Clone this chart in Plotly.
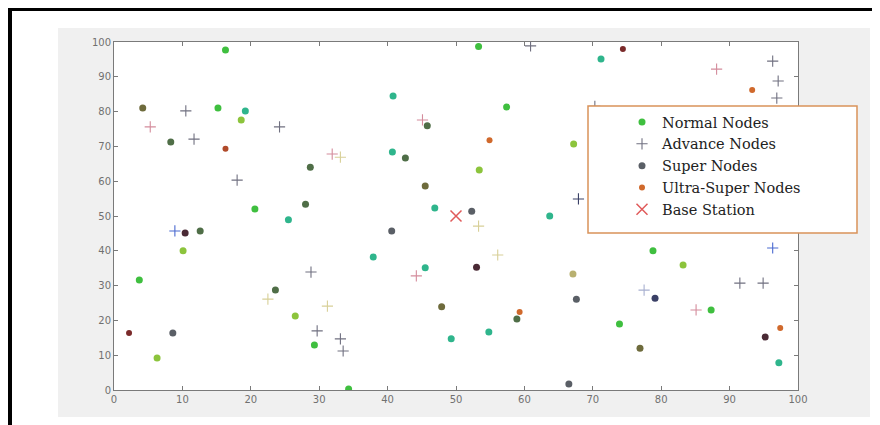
import plotly.graph_objects as go

# ---- data ----
normal_x = [16.3, 53.3, 71.2, 15.2, 19.2, 18.6, 20.6, 25.5, 10.1, 3.7, 26.5, 6.3, 40.8, 57.4, 67.2,
            40.7, 53.4, 46.9, 63.7, 37.9, 45.5, 29.3, 49.3, 54.8, 34.3, 87.3, 73.9, 97.2, 78.8, 83.2]
normal_y = [97.7, 98.7, 95.1, 81.0, 80.2, 77.6, 52.0, 48.9, 40.0, 31.6, 21.3, 9.2, 84.5, 81.3, 70.7,
            68.4, 63.2, 52.3, 50.0, 38.2, 35.1, 12.9, 14.7, 16.7, 0.3, 23.0, 19.0, 7.8, 40.0, 35.9]

advance_x = [60.9, 88.1, 96.3, 97.1, 96.9, 70.3, 5.3, 10.5, 11.7, 24.2, 18.0, 8.9, 22.5, 45.1, 31.9,
             33.1, 67.9, 53.3, 56.1, 28.8, 44.2, 31.2, 29.7, 33.1, 33.5, 77.5, 85.1, 91.5, 94.9, 96.3]
advance_y = [98.9, 92.2, 94.5, 88.8, 83.9, 81.5, 75.6, 80.2, 72.1, 75.6, 60.3, 45.7, 26.1, 77.6, 67.8,
             66.9, 54.9, 47.1, 38.8, 33.9, 32.8, 24.1, 17.0, 14.7, 11.2, 28.7, 23.0, 30.7, 30.7, 40.8]

super_x = [8.6, 4.2, 8.3, 10.4, 12.6, 23.6, 45.8, 42.6, 28.7, 45.5, 28.0, 52.3, 40.6, 53.0, 47.9,
           58.9, 66.5, 67.6, 79.1, 76.9, 95.2, 67.1]
super_y = [16.4, 81.0, 71.3, 45.1, 45.7, 28.7, 75.9, 66.7, 64.0, 58.6, 53.4, 51.4, 45.7, 35.3, 23.9,
           20.4, 1.7, 26.1, 26.4, 12.0, 15.2, 33.3]

ultra_x = [93.3, 74.4, 16.3, 54.9, 59.3, 97.4, 2.2]
ultra_y = [86.2, 98.0, 69.3, 71.8, 22.4, 17.8, 16.4]

base_x = [50]
base_y = [50]

tick_vals = [0, 10, 20, 30, 40, 50, 60, 70, 80, 90, 100]

# ---- per-point styling ----
G, T, Y = "#3fbf3f", "#2fb58c", "#8cc43c"
normal_colors = [G, G, T, G, T, Y, G, T, Y, G, Y, Y, T, G, Y,
                 T, Y, T, T, T, T, G, T, T, G, G, G, T, G, Y]
DG, DK, MR, OL, NV = "#4f6e47", "#5a5f66", "#4a2a35", "#6e6b3c", "#3a4066"
super_colors = [DK, OL, DG, MR, DG, DG, DG, DG, DG, OL, DG, DK, DK, MR, OL,
                DG, DK, DK, NV, OL, MR, "#b8b070"]
GR, PK, PY, BL = "#707080", "#d48c9c", "#d8d098", "#4a6ad0"
advance_colors = [GR, PK, GR, GR, GR, GR, PK, GR, GR, GR, GR, BL, PY, PK, PK,
                  PY, NV, PY, PY, GR, PK, PY, GR, GR, GR, "#a8b0d0", PK, GR, GR, BL]
OR, DR = "#d0692c", "#7a2a2a"
ultra_colors = [OR, DR, "#b04a2a", OR, OR, OR, DR]

fig = go.Figure()
fig.add_trace(go.Scatter(x=normal_x, y=normal_y, mode="markers", name="Normal Nodes",
                         marker=dict(symbol="circle", size=7, color=normal_colors)))
fig.add_trace(go.Scatter(x=advance_x, y=advance_y, mode="markers", name="Advance Nodes",
                         marker=dict(symbol="cross-thin", size=8, color=advance_colors,
                                     line=dict(width=1.1, color=advance_colors))))
fig.add_trace(go.Scatter(x=super_x, y=super_y, mode="markers", name="Super Nodes",
                         marker=dict(symbol="circle", size=7, color=super_colors)))
fig.add_trace(go.Scatter(x=ultra_x, y=ultra_y, mode="markers", name="Ultra-Super Nodes",
                         marker=dict(symbol="circle", size=6, color=ultra_colors)))
fig.add_trace(go.Scatter(x=base_x, y=base_y, mode="markers", name="Base Station",
                         marker=dict(symbol="x-thin", size=11, color="#e05a5a",
                                     line=dict(width=1.5, color="#e05a5a"))))

# page pixel -> paper coordinates (plot area spans page px 114..798 and 42..390)
def px2x(px):
    return (px - 114) / 684.0

def py2y(py):
    return (390 - py) / 348.0

shapes = [
    dict(type="rect", xref="paper", yref="paper", x0=px2x(58), x1=px2x(870), y0=py2y(417), y1=py2y(28),
         fillcolor="#f0f0f0", line=dict(width=0), layer="below"),
    dict(type="rect", xref="paper", yref="paper", x0=0, x1=1, y0=0, y1=1,
         fillcolor="white", line=dict(width=0), layer="below"),
    dict(type="rect", xref="paper", yref="paper", x0=px2x(588), x1=px2x(857), y0=py2y(233), y1=py2y(106),
         fillcolor="white", line=dict(width=1.5, color="#d9925a"), layer="above"),
    dict(type="line", xref="paper", yref="paper", x0=px2x(8), x1=px2x(885), y0=py2y(9), y1=py2y(9),
         line=dict(width=4, color="black")),
    dict(type="line", xref="paper", yref="paper", x0=px2x(10), x1=px2x(10), y0=py2y(7), y1=py2y(430),
         line=dict(width=4, color="black")),
]

axis_common = dict(range=[0, 100], tickvals=tick_vals, showgrid=False, zeroline=False,
                   showline=True, linecolor="#7a7a7a", linewidth=1, mirror="ticks",
                   ticks="inside", ticklen=4, tickcolor="#7a7a7a",
                   tickfont=dict(family="DejaVu Sans", size=10, color="#707070"))

# the page has an 8px body margin, so the figure starts at page (8, 8)
fig.update_layout(
    width=872, height=417,
    margin=dict(l=106, r=82, t=34, b=35),
    paper_bgcolor="white", plot_bgcolor="rgba(0,0,0,0)",
    xaxis=axis_common, yaxis=axis_common,
    shapes=shapes,
    legend=dict(x=px2x(622), y=py2y(106), xanchor="left", yanchor="top",
                bgcolor="rgba(0,0,0,0)", borderwidth=0,
                font=dict(family="DejaVu Serif", size=14.5, color="#222222")),
    showlegend=True,
)

fig.write_html("out.html")
